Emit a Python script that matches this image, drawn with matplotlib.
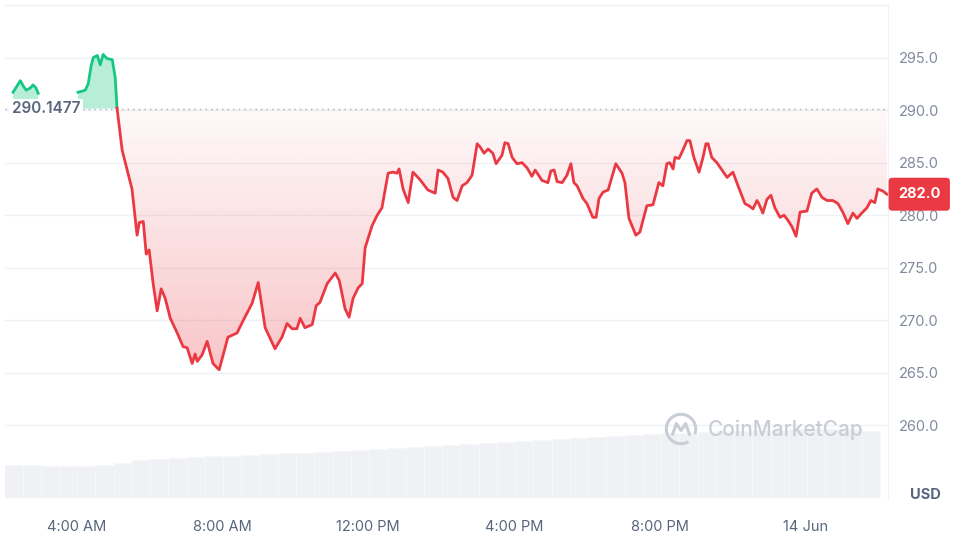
import numpy as np
import matplotlib
matplotlib.use("Agg")
import matplotlib.pyplot as plt
from matplotlib.colors import to_rgb
from matplotlib.path import Path
from matplotlib.patches import Arc

plt.rcParams['font.family'] = ['Inter', 'DejaVu Sans']

# price series (hours since 13 Jun 00:00, USD)
hours = [2.27, 2.38, 2.47, 2.55, 2.63, 2.74, 2.82, 2.90, 2.96, 3.50,
         4.05, 4.16, 4.25, 4.33, 4.41, 4.47, 4.58, 4.66, 4.74, 4.85, 4.99, 5.07, 5.12,
         5.26, 5.40, 5.53, 5.67, 5.73, 5.84, 5.92, 6.00, 6.11, 6.22, 6.33, 6.44, 6.58,
         6.77, 6.93, 7.04, 7.18, 7.26, 7.32, 7.45, 7.59, 7.75, 7.86, 7.92, 8.16, 8.41,
         8.58, 8.82, 8.99, 9.18, 9.45, 9.64, 9.78, 9.92, 10.05, 10.14, 10.27, 10.47,
         10.58, 10.68, 10.88, 11.10, 11.21, 11.37, 11.48, 11.59, 11.73, 11.84, 11.92,
         12.11, 12.25, 12.38, 12.55, 12.68, 12.79, 12.85, 12.96, 13.10, 13.23, 13.42,
         13.64, 13.84, 13.92, 14.05, 14.19, 14.33, 14.44, 14.58, 14.71, 14.85, 14.99,
         15.07, 15.18, 15.29, 15.42, 15.51, 15.67, 15.75, 15.84, 15.95, 16.08, 16.22,
         16.36, 16.49, 16.58, 16.77, 16.93, 17.01, 17.10, 17.18, 17.32, 17.45, 17.56,
         17.64, 17.73, 17.89, 18.00, 18.16, 18.25, 18.33, 18.44, 18.58, 18.79, 18.96,
         19.04, 19.15, 19.34, 19.45, 19.64, 19.81, 19.97, 20.08, 20.19, 20.27, 20.36,
         20.41, 20.52, 20.63, 20.74, 20.82, 20.93, 21.07, 21.18, 21.26, 21.32, 21.42,
         21.56, 21.70, 21.84, 22.00, 22.14, 22.33, 22.44, 22.55, 22.66, 22.71, 22.82,
         22.93, 23.04, 23.15, 23.29, 23.40, 23.51, 23.62, 23.73, 23.84, 24.03, 24.16,
         24.30, 24.44, 24.58, 24.74, 24.88, 25.01, 25.15, 25.29, 25.40, 25.53, 25.67,
         25.78, 25.89, 25.97, 26.11, 26.22]
prices = [291.7, 292.3, 292.8, 292.3, 291.9, 292.1, 292.4, 292.1, 291.6, np.nan,
          291.7, 291.8, 291.9, 292.5, 294.2, 295.0, 295.2, 294.3, 295.3, 294.9, 294.8, 293.1, 290.2,
          286.2, 284.3, 282.5, 278.1, 279.3, 279.4, 276.3, 276.7, 273.5, 270.9, 273.0, 272.1, 270.2,
          268.8, 267.5, 267.4, 265.9, 266.8, 266.1, 266.7, 268.0, 265.9, 265.5, 265.3, 268.4, 268.8,
          270.0, 271.6, 273.6, 269.3, 267.3, 268.4, 269.7, 269.2, 269.2, 270.2, 269.3, 269.6,
          271.4, 271.7, 273.5, 274.5, 273.8, 271.1, 270.3, 272.1, 273.1, 273.5, 276.9,
          279.0, 280.0, 280.7, 284.0, 284.1, 284.0, 284.4, 282.5, 281.2, 284.1, 283.4,
          282.4, 282.1, 284.3, 284.1, 283.5, 281.7, 281.4, 282.8, 283.1, 283.8, 286.8,
          286.5, 285.9, 286.3, 285.9, 284.9, 285.7, 286.9, 286.8, 285.5, 284.9, 285.0,
          284.5, 283.7, 284.3, 283.3, 283.1, 284.2, 284.3, 283.2, 283.1, 283.8, 284.9,
          283.1, 282.8, 281.6, 281.1, 279.8, 279.8, 281.6, 282.2, 282.4, 284.9, 284.0,
          283.1, 279.7, 278.1, 278.4, 280.9, 281.0, 283.1, 282.8, 284.9, 285.0, 284.4,
          285.5, 285.4, 286.2, 287.1, 287.1, 285.5, 284.1, 285.5, 286.8, 286.8, 285.5,
          285.0, 284.3, 283.6, 284.1, 282.8, 281.1, 280.9, 280.6, 281.4, 281.1, 280.2,
          281.5, 281.9, 280.7, 279.8, 280.0, 279.5, 278.9, 278.0, 280.3, 280.4, 282.1,
          282.5, 281.7, 281.4, 281.4, 281.1, 280.3, 279.2, 280.2, 279.7, 280.2, 280.7,
          281.4, 281.2, 282.5, 282.3, 282.0]

open_price = 290.1477
last_price = 282.0

# volume bars (half-hourly, relative height)
vol_hours = [1.53 + 0.5 * i for i in range(49)]
volumes = [33, 33, 33, 32.5, 32.5, 32.5, 33, 35, 38, 39, 40, 41, 42, 42.5, 43, 44,
           45, 45.5, 46, 47, 48, 49, 50, 51, 52, 53, 54, 55, 56, 57, 58, 59, 60, 61,
           62, 63, 64, 65, 65.5, 66, 67, 67.5, 68, 68.5, 69, 69, 69, 69.5, 67]

tick_hours = [4, 8, 12, 16, 20, 24]
tick_labels = ['4:00 AM', '8:00 AM', '12:00 PM', '4:00 PM', '8:00 PM', '14 Jun']
y_ticks = [260, 265, 270, 275, 280, 285, 290, 295]

GREEN = '#16c784'
RED = '#ea3943'
GRID = '#eff2f5'

t = np.array(hours)
p = np.array(prices)

fig = plt.figure(figsize=(9.8, 5.38), dpi=100)
rect = [5 / 980, 40 / 538, 883 / 980, 493 / 538]
ax_vol = fig.add_axes(rect)
ax = fig.add_axes(rect)
ax.patch.set_visible(False)

# volume
ax_vol.bar(vol_hours, volumes, width=0.5, align='edge', color='#eff1f5',
           edgecolor='#f7f8fa', linewidth=0.5)
ax_vol.set_ylim(0, 493)
ax_vol.set_xlim(2.05, 26.25)
ax_vol.axis('off')

# grid and baseline
for yv in y_ticks:
    ax.axhline(yv, color=GRID, lw=1, zorder=0)
ax.axhline(300, color=GRID, lw=1, zorder=0)
ax.axhline(open_price, color='#a6b0c3', lw=1, ls=(0, (1, 3)), zorder=1)

# green fill above open
ax.fill_between(t, p, open_price, where=p >= open_price, interpolate=True,
                color=GREEN, alpha=0.3, lw=0, zorder=2)

# red gradient fill below open
below = ax.fill_between(t, p, open_price, where=p < open_price, interpolate=True,
                        facecolor='none', lw=0)
clip = Path.make_compound_path(*below.get_paths())
n = 256
grad = np.zeros((n, 1, 4))
grad[..., :3] = to_rgb(RED)
grad[:, 0, 3] = np.linspace(0.30, 0.03, n)
im = ax.imshow(grad, extent=[2.05, 26.25, 264.5, open_price], origin='lower',
               aspect='auto', zorder=2, interpolation='bilinear')
im.set_clip_path(clip, transform=ax.transData)

# price line
split = int(np.argmax(p < open_price))
ax.plot(t[:split], p[:split], color=GREEN, lw=2, zorder=3, solid_joinstyle='round')
ax.plot(t[split - 1:], p[split - 1:], color=RED, lw=2, zorder=3, solid_joinstyle='round')

ax.set_xlim(2.05, 26.25)
ax.set_ylim(253.1, 300)

ax.yaxis.tick_right()
ax.set_yticks(y_ticks)
ax.set_yticklabels([f'{v:.1f}' for v in y_ticks])
ax.tick_params(axis='y', length=0, pad=8, labelsize=10.5, labelcolor='#808a9d')
ax.set_xticks(tick_hours)
ax.set_xticklabels(tick_labels)
ax.tick_params(axis='x', length=0, pad=16, labelsize=10.5, labelcolor='#58667e')
for s in ['top', 'left', 'bottom']:
    ax.spines[s].set_visible(False)
ax.spines['right'].set_color(GRID)

# open price label
ax.text(0.008, open_price, f'{open_price:.4f}', transform=ax.get_yaxis_transform(),
        ha='left', va='center', fontsize=11, fontweight='semibold', color='#58667e',
        bbox=dict(facecolor='white', edgecolor='none', pad=1.5), zorder=5)

# last price tag
ax.annotate(f'{last_price:.1f}', xy=(1, last_price), xycoords=('axes fraction', 'data'),
            xytext=(22.5, 0), textcoords='offset points', ha='center', va='center',
            fontsize=10.5, fontweight='bold', color='white', annotation_clip=False,
            bbox=dict(boxstyle='round,pad=0.65,rounding_size=0.25', facecolor=RED,
                      edgecolor='none'), zorder=6)

fig.text(925 / 980, 1 - 495 / 538, 'USD', ha='center', va='center', fontsize=10.5,
         fontweight='bold', color='#58667e')

# watermark
logo = fig.add_axes([664 / 980, 1 - 446 / 538, 34 / 980, 34 / 538])
logo.set_xlim(-1.1, 1.1)
logo.set_ylim(-1.1, 1.1)
logo.set_aspect('equal')
logo.axis('off')
logo.add_patch(Arc((0, 0), 1.9, 1.9, theta1=-20, theta2=300, color='#c8cdd6', lw=2.2))
logo.plot([-0.55, -0.3, 0.0, 0.3, 0.55], [-0.35, 0.35, -0.1, 0.35, -0.35],
          color='#c8cdd6', lw=2.2, solid_capstyle='round')
fig.text(708 / 980, 1 - 430 / 538, 'CoinMarketCap', ha='left', va='center',
         fontsize=15, fontweight='medium', color='#c8cdd6')

fig.savefig('out.png', dpi=100)
